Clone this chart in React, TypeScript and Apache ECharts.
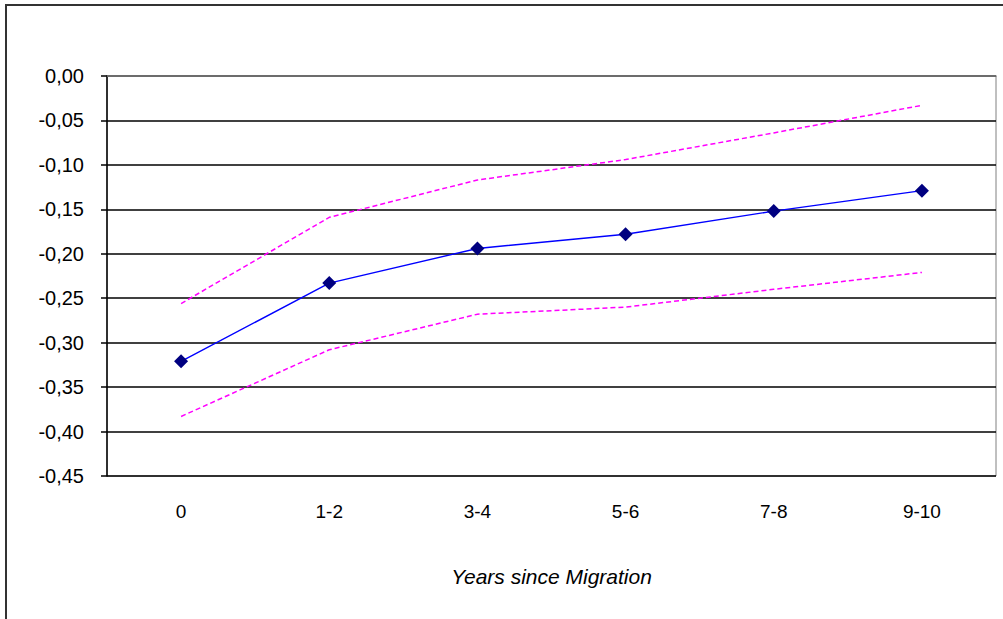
import React, { useEffect, useRef } from "react";
import * as echarts from "echarts";

const categories = ["0", "1-2", "3-4", "5-6", "7-8", "9-10"];
const estimate = [-0.321, -0.233, -0.194, -0.178, -0.152, -0.129];
const upperBound = [-0.256, -0.159, -0.117, -0.094, -0.064, -0.033];
const lowerBound = [-0.383, -0.308, -0.268, -0.26, -0.24, -0.221];
const axisTitle = "Years since Migration";

export default function App() {
  const ref = useRef<HTMLDivElement>(null);
  useEffect(() => {
    document.body.style.margin = "0";
    const chart = echarts.init(ref.current!, null, { renderer: "svg" });
    const font = "Liberation Sans, Arial, sans-serif";
    chart.setOption({
      animation: false,
      backgroundColor: "#ffffff",
      grid: {
        left: 107,
        top: 76,
        right: 7,
        bottom: 143,
        show: true,
        borderColor: "#808080",
        borderWidth: 1,
      },
      xAxis: {
        type: "category",
        data: categories,
        boundaryGap: true,
        axisLine: { show: true, lineStyle: { color: "#808080", width: 1.5 } },
        axisTick: { show: false },
        axisLabel: { color: "#000", fontSize: 19, fontFamily: font, margin: 26 },
        splitLine: { show: false },
        name: axisTitle,
        nameLocation: "middle",
        nameGap: 90,
        nameTextStyle: { color: "#000", fontSize: 21, fontStyle: "italic", fontFamily: font },
      },
      yAxis: {
        type: "value",
        min: -0.45,
        max: 0,
        interval: 0.05,
        axisLine: { show: true, lineStyle: { color: "#000", width: 1.5 } },
        axisTick: { show: true, inside: false, length: 6, lineStyle: { color: "#000", width: 1.5 } },
        axisLabel: {
          color: "#000",
          fontSize: 20,
          fontFamily: font,
          margin: 23,
          formatter: (v: number) => (Math.abs(v) < 1e-9 ? "0,00" : v.toFixed(2).replace(".", ",")),
        },
        splitLine: { show: true, lineStyle: { color: "#000", width: 1.5 } },
      },
      series: [
        {
          type: "line",
          data: upperBound,
          symbol: "none",
          lineStyle: { color: "#ff00ff", width: 1.5, type: [5, 3] },
          z: 3,
        },
        {
          type: "line",
          data: lowerBound,
          symbol: "none",
          lineStyle: { color: "#ff00ff", width: 1.5, type: [5, 3] },
          z: 3,
        },
        {
          type: "line",
          data: estimate,
          symbol: "diamond",
          symbolSize: 14,
          itemStyle: { color: "#000080", borderWidth: 0 },
          lineStyle: { color: "#0000ff", width: 1.4 },
          z: 4,
        },
      ],
      graphic: [
        {
          type: "rect",
          shape: { x: 6, y: 5, width: 1010, height: 700 },
          style: { fill: "none", stroke: "#333333", lineWidth: 2 },
          silent: true,
        },
      ],
    });
    return () => chart.dispose();
  }, []);
  return <div ref={ref} style={{ width: 1003, height: 619 }} />;
}
